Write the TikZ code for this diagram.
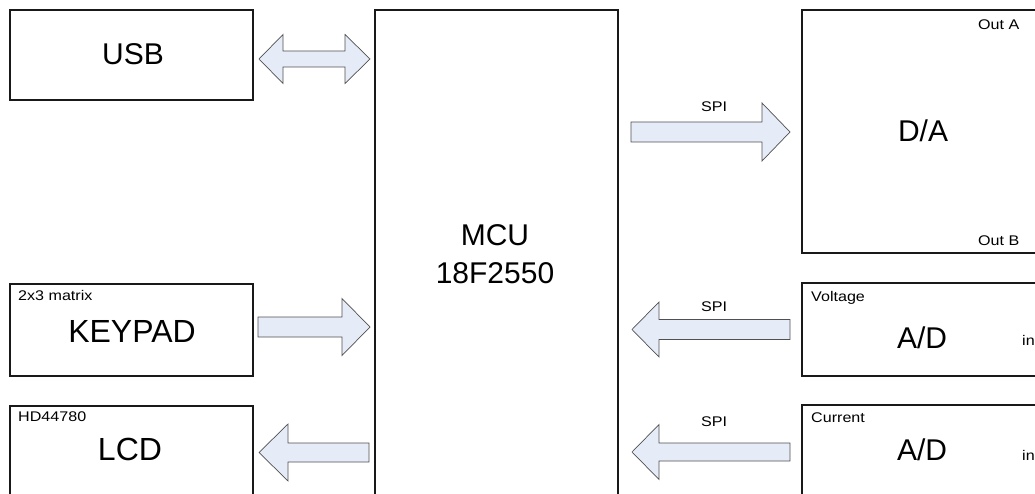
\documentclass[tikz,border=0pt]{standalone}
\usepackage{graphicx}
\usepackage{fontspec}
\setmainfont{Liberation Sans}
\definecolor{arrowfill}{RGB}{230,236,247}
\definecolor{arrowline}{RGB}{80,80,80}
\newcommand{\blockarr}[6]{% tail x, head base x, tip x, centre y, head half, shaft half
  \draw[blockarrow] (#1,#4-#6) -- (#2,#4-#6) -- (#2,#4-#5) -- (#3,#4) -- (#2,#4+#5) -- (#2,#4+#6) -- (#1,#4+#6) -- cycle;}
\newcommand{\widetxt}[1]{\scalebox{1.15}[1]{#1}}
\begin{document}
\begin{tikzpicture}[x=1pt,y=-1pt,
  box/.style={draw=black!90, line width=1.3pt, inner sep=0pt, outer sep=0pt, minimum width=243pt},
  big/.style={font=\fontsize{30}{37}\selectfont, inner sep=0pt, anchor=base},
  bigger/.style={font=\fontsize{32}{37}\selectfont, inner sep=0pt, anchor=base},
  small/.style={font=\fontsize{14}{16}\selectfont, inner sep=0pt, anchor=base west},
  spilabel/.style={font=\fontsize{14}{16}\selectfont, inner sep=0pt, anchor=base},
  blockarrow/.style={draw=arrowline, line width=0.7pt, fill=arrowfill, line join=miter}]
\useasboundingbox (0,0) rectangle (1035,494);
\clip (0,0) rectangle (1035,494);
% boxes
\node[box, minimum height=90pt]  (usb)    at (131.5,55)    {};
\node[box, minimum height=92pt]  (keypad) at (131.5,330)   {};
\node[box, minimum height=114pt] (lcd)    at (131.5,463)   {};
\node[box, minimum height=510pt] (mcu)    at (496.5,265)   {};
\node[box, minimum height=243pt] (da)     at (923.5,131.5) {};
\node[box, minimum height=93pt]  (vad)    at (923.5,329.5) {};
\node[box, minimum height=115pt] (cad)    at (923.5,462.5) {};
% main texts
\node[big]    (usbt)  at (133,65)  {USB};
\node[bigger] (keyt)  at (132,342) {KEYPAD};
\node[bigger] (lcdt)  at (130,460) {LCD};
\node[big]    (mcut1) at (495,245) {MCU};
\node[big]    (mcut2) at (495,283) {18F2550};
\node[big]    (dat)   at (923,142) {D/A};
\node[big]    (vadt)  at (922,348) {A/D};
\node[big]    (cadt)  at (922,460) {A/D};
% small texts
\node[small] (kpsub) at (18,300)   {\widetxt{2x3 matrix}};
\node[small] (lcsub) at (18,421.5) {\widetxt{HD44780}};
\node[small] (outa)  at (978,30)   {\widetxt{Out A}};
\node[small] (outb)  at (978,245)  {\widetxt{Out B}};
\node[small] (vsub)  at (811,301)  {\widetxt{Voltage}};
\node[small] (csub)  at (811,422.5){\widetxt{Current}};
\node[small] (vin)   at (1022,345) {\widetxt{in}};
\node[small] (cin)   at (1022,460) {\widetxt{in}};
\node[spilabel] (spi1) at (714,112) {\widetxt{SPI}};
\node[spilabel] (spi2) at (714,311) {\widetxt{SPI}};
\node[spilabel] (spi3) at (714,426) {\widetxt{SPI}};
% block arrows
\draw[blockarrow] (259,59) -- (283,34.5) -- (283,51) -- (345,51) -- (345,34.5) -- (370,59)
   -- (345,83.5) -- (345,67) -- (283,67) -- (283,83.5) -- cycle;
\blockarr{258}{342}{370}{327}{28.5}{10}
\blockarr{369}{288}{259}{452.5}{28.5}{9.5}
\blockarr{631}{762}{790}{132}{29}{10}
\blockarr{790}{659}{632}{329.5}{27.5}{10}
\blockarr{790}{659}{632}{452}{27.5}{9}
\end{tikzpicture}
\end{document}
